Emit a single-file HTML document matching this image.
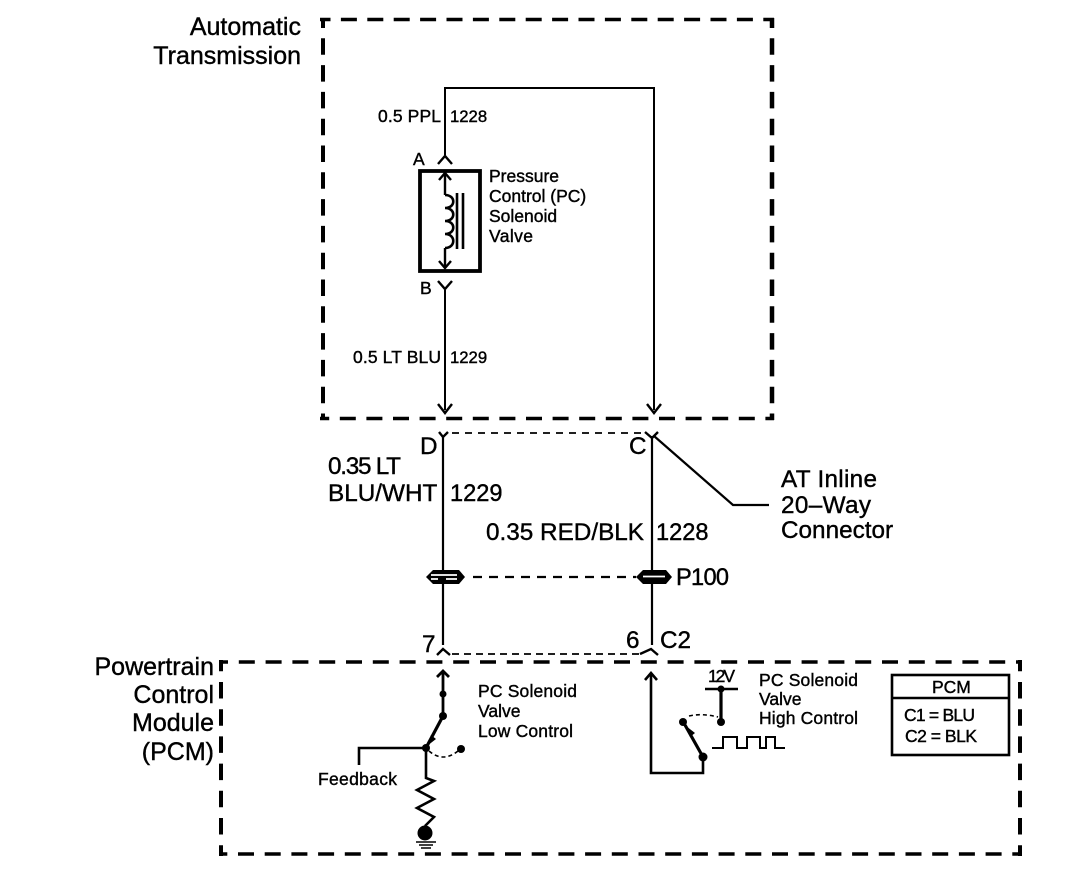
<!DOCTYPE html>
<html>
<head>
<meta charset="utf-8">
<style>
html,body{margin:0;padding:0;background:#fff;}
svg{display:block;}
text{font-family:"Liberation Sans",sans-serif;fill:#000;stroke:#000;stroke-width:.4;}
.m{font-size:17.5px;}
.n{font-size:16.7px;}
.l{font-size:24.3px;}
.h{font-size:25px;}
.k{font-size:23.6px;}
</style>
</head>
<body>
<svg width="1072" height="870" viewBox="0 0 1072 870" xmlns="http://www.w3.org/2000/svg">
<g fill="none" stroke="#000" stroke-linecap="butt">
  <!-- dashed box: transmission -->
  <path d="M320 19.5H774" stroke-width="3.6" stroke-dasharray="16 10.4" stroke-dashoffset="5.5"/>
  <path d="M320 418.5H774" stroke-width="3.6" stroke-dasharray="16 10.6" stroke-dashoffset="6.8"/>
  <path d="M323 18V420" stroke-width="4" stroke-dasharray="16.5 10.3" stroke-dashoffset="6.5"/>
  <path d="M772 18V420" stroke-width="4.5" stroke-dasharray="16.5 10.3" stroke-dashoffset="6.5"/>
  <!-- dashed box: PCM -->
  <path d="M219 662H1022" stroke-width="3.6" stroke-dasharray="16 10.8" stroke-dashoffset="7"/>
  <path d="M219 854H1022" stroke-width="3.6" stroke-dasharray="16 10.7" stroke-dashoffset="7.7"/>
  <path d="M221 660V856" stroke-width="4" stroke-dasharray="16.5 10.7" stroke-dashoffset="5.2"/>
  <path d="M1020 660V856" stroke-width="4" stroke-dasharray="16.5 10.7" stroke-dashoffset="5.2"/>

  <!-- top wires -->
  <path d="M445 155V88H654V410" stroke-width="2"/>
  <path d="M445 290V410" stroke-width="2"/>
  <path d="M438 164L445 156L452 164" stroke-width="2.4"/>
  <path d="M438 281L445 289L452 281" stroke-width="2.4"/>
  <path d="M438 404L445 413L452 404M647 404L654 413L661 404" stroke-width="2.4"/>

  <!-- solenoid -->
  <rect x="420" y="171" width="60" height="100" stroke-width="3.8"/>
  <path d="M445 172V195M445 248V268" stroke-width="2.4"/>
  <path d="M439 180L445 173L451 180M439 261L445 268L451 261" stroke-width="2.4"/>
  <path d="M445 195c11 0 11 13 0 13c11 0 11 13 0 13c11 0 11 13 0 13c11 0 11 14 0 14" stroke-width="2.6"/>
  <path d="M457 193V249M463 193V249" stroke-width="2.6"/>

  <!-- connector and lower wires -->
  <path d="M443 436V645M652 436V645" stroke-width="2.2"/>
  <path d="M439 432L443 437L448 432M645 432L652 438L658 432" stroke-width="2.4"/>
  <path d="M452 433H645" stroke-width="1.8" stroke-dasharray="7 6"/>
  <path d="M654 436L733 505H769" stroke-width="2.2"/>
  <path d="M437 655L443 649L450 655M640 654L651 649L658 655" stroke-width="2.4"/>
  <path d="M452 654H640" stroke-width="1.8" stroke-dasharray="7 5"/>

  <!-- P100 splice -->
  <path d="M473 577H636" stroke-width="2.2" stroke-dasharray="9 7"/>

  <!-- low control circuit -->
  <path d="M443 672V716" stroke-width="2.8"/>
  <path d="M437 677L443 671L449 677" stroke-width="2.8"/>
  <path d="M443 716L427 746" stroke-width="3.2"/>
  <path d="M359 765V748H426V778L434 781L417 790L434 799L417 808L434 817L425 826" stroke-width="2.6"/>
  <path d="M429 751Q443 763 458 751" stroke-width="1.6" stroke-dasharray="4 3"/>
  <path d="M416 842H436M419 845H433M421 848H431" stroke-width="1.6"/>

  <!-- high control circuit -->
  <path d="M651 674V773H703V757" stroke-width="2.6"/>
  <path d="M645 680L651 673L657 680" stroke-width="2.6"/>
  <path d="M703 757L685 725" stroke-width="3.2"/>
  <path d="M705 689H738" stroke-width="2.6"/>
  <path d="M721 689V722" stroke-width="3.2"/>
  <path d="M689 716Q702 713 718 717" stroke-width="1.6" stroke-dasharray="4 3"/>
  <path d="M712 748H723V737H737V748H747V737H760V748H766V737H775V748H785" stroke-width="2"/>

  <!-- PCM legend -->
  <rect x="892" y="675" width="117" height="80" stroke-width="2.6"/>
  <path d="M892 698H1009" stroke-width="2.6"/>
</g>
<g fill="#000">
  <!-- P100 solid splice bodies -->
  <path d="M426 577L433 570H459L465 577L459 584H433Z"/>
  <path d="M636 577L643 570H666L672 577L666 584H643Z"/>
  <circle cx="443" cy="694" r="3.5"/>
  <circle cx="443" cy="716" r="4"/>
  <circle cx="426" cy="748" r="4"/>
  <circle cx="461" cy="749" r="4"/>
  <circle cx="425" cy="833" r="7.5"/>
  <circle cx="721" cy="689" r="3.5"/>
  <circle cx="721" cy="722" r="4"/>
  <circle cx="683" cy="722" r="4"/>
  <circle cx="703" cy="757" r="4.5"/>
  <path d="M427 746L431 735L436 739Z"/>
  <path d="M686 726L690 737L695 733Z"/>
</g>
<path d="M431 575H457M431 579H438M446 579H457M643 576.5H665" fill="none" stroke="#fff" stroke-width="1.8"/>

<text class="h" x="301" y="35" text-anchor="end">Automatic</text>
<text class="h" x="301" y="64" text-anchor="end">Transmission</text>

<text class="m" x="378" y="122" textLength="63" lengthAdjust="spacing">0.5 PPL</text>
<text class="n" x="450" y="122">1228</text>
<text class="m" x="413" y="165">A</text>
<text class="m" x="420" y="294">B</text>
<text class="m" x="489" y="182">Pressure</text>
<text class="m" x="489" y="202">Control (PC)</text>
<text class="m" x="489" y="222">Solenoid</text>
<text class="m" x="489" y="242" textLength="44" lengthAdjust="spacing">Valve</text>
<text class="m" x="353" y="363" textLength="88" lengthAdjust="spacing">0.5 LT BLU</text>
<text class="n" x="450" y="363">1229</text>

<text class="l" x="420" y="454">D</text>
<text class="l" x="629" y="454">C</text>
<text class="l" x="328" y="474" textLength="73" lengthAdjust="spacing">0.35 LT</text>
<text class="l" x="328" y="501">BLU/WHT</text>
<text class="k" x="450" y="501">1229</text>
<text class="l" x="486" y="540">0.35 RED/BLK</text>
<text class="k" x="656" y="540">1228</text>
<text class="l" x="781" y="487" textLength="96" lengthAdjust="spacing">AT Inline</text>
<text class="l" x="781" y="513" textLength="90" lengthAdjust="spacing">20–Way</text>
<text class="l" x="781" y="538">Connector</text>
<text class="k" x="676" y="585" textLength="53" lengthAdjust="spacing">P100</text>
<text class="l" x="422" y="652">7</text>
<text class="l" x="626" y="648">6</text>
<text class="l" x="660" y="648">C2</text>

<text class="h" x="214" y="675" text-anchor="end">Powertrain</text>
<text class="h" x="214" y="703" text-anchor="end">Control</text>
<text class="h" x="214" y="731" text-anchor="end">Module</text>
<text class="h" x="214" y="760" text-anchor="end">(PCM)</text>

<text class="m" x="478" y="697" textLength="99" lengthAdjust="spacing">PC Solenoid</text>
<text class="m" x="478" y="717">Valve</text>
<text class="m" x="478" y="737" textLength="95" lengthAdjust="spacing">Low Control</text>
<text class="m" x="318" y="785" textLength="79" lengthAdjust="spacing">Feedback</text>
<text class="m" x="708" y="682" textLength="27" lengthAdjust="spacing">12V</text>
<text class="m" x="759" y="686" textLength="99" lengthAdjust="spacing">PC Solenoid</text>
<text class="m" x="759" y="705">Valve</text>
<text class="m" x="759" y="724" textLength="99" lengthAdjust="spacing">High Control</text>
<text class="m" x="932" y="693">PCM</text>
<text class="m" x="904" y="721" textLength="71" lengthAdjust="spacing">C1 = BLU</text>
<text class="m" x="905" y="742" textLength="72" lengthAdjust="spacing">C2 = BLK</text>
</svg>
</body>
</html>
